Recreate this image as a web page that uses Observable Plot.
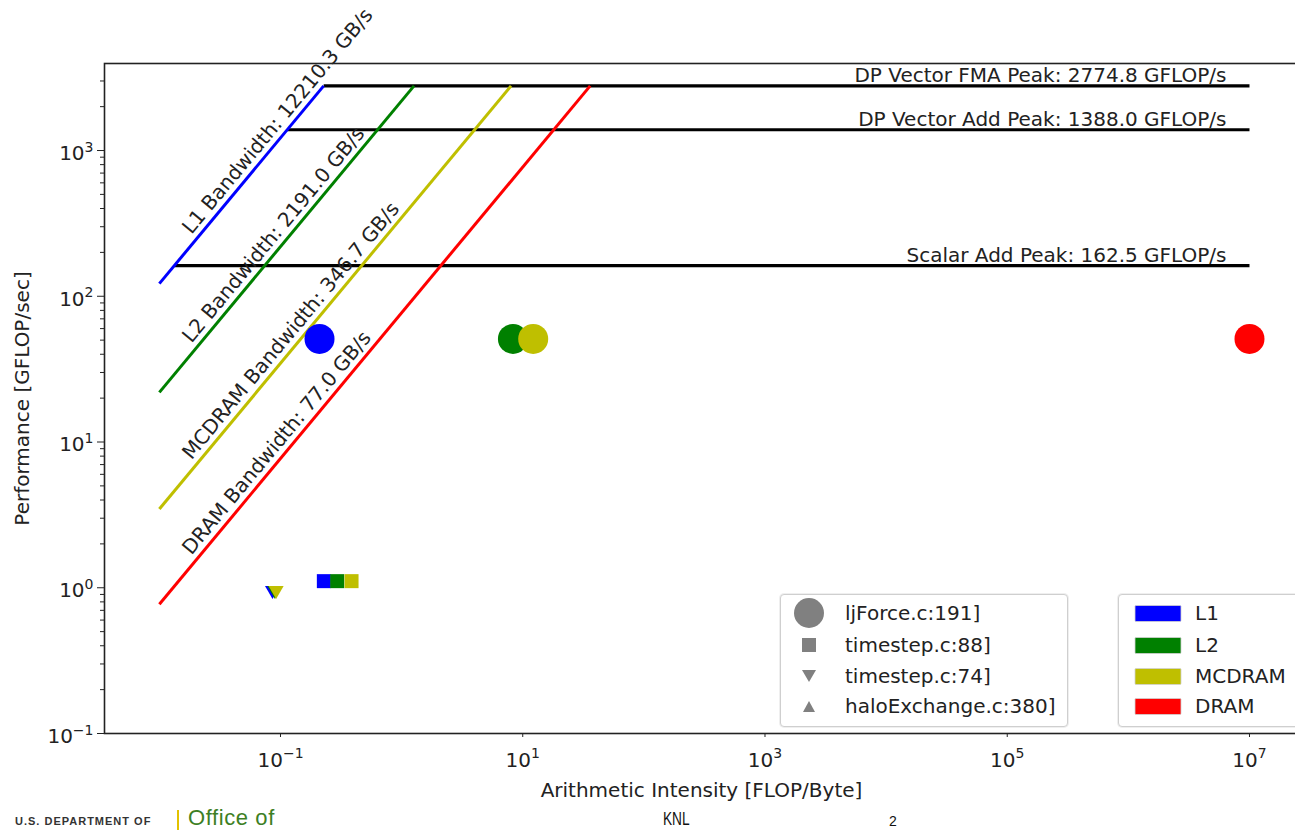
<!DOCTYPE html>
<html>
<head>
<meta charset="utf-8">
<script src="https://cdn.jsdelivr.net/npm/d3@7"></script>
<script src="https://cdn.jsdelivr.net/npm/@observablehq/plot@0.6"></script>
<style>
  html, body { margin: 0; padding: 0; background: #fff; }
  body { width: 1295px; height: 830px; overflow: hidden; position: relative; font-family: "DejaVu Sans", sans-serif; }
  #chart { position: absolute; left: 0; top: 0; width: 1300px; }
  #chart svg { max-width: none !important; }
  .legend { position: absolute; background: #fff; border: 1px solid #cfcfcf; border-radius: 4px; box-shadow: 0 0 0 1px #efefef; }
  .row { position: absolute; left: 0; height: 31px; width: 100%; }
  .row span { position: absolute; font-size: 20px; color: #222; line-height: 31px; top: 0; }
  .row svg { position: absolute; top: 0; }
  .foot { position: absolute; white-space: nowrap; line-height: normal; }
</style>
</head>
<body>
<div id="chart"></div>
<div id="legendKernels" class="legend" style="left:780px; top:594px; width:286px; height:131px;"></div>
<div id="legendLevels" class="legend" style="left:1118px; top:594px; width:180px; height:131px;"></div>

<div class="foot" style="left:15px; top:815px; font-family:'Liberation Sans',sans-serif; font-weight:bold; font-size:11px; letter-spacing:1px; color:#333;">U.S. DEPARTMENT OF</div>
<div class="foot" style="left:177px; top:810px; width:2px; height:22px; background:#e2c200;"></div>
<div class="foot" style="left:188px; top:805px; font-family:'Liberation Sans',sans-serif; font-size:22px; letter-spacing:0.6px; color:#3d7f24;">Office of</div>
<div class="foot" style="left:663px; top:808px; font-family:'Liberation Sans',sans-serif; font-size:19px; color:#111; transform:scaleX(0.72); transform-origin:left top;">KNL</div>
<div class="foot" style="left:889px; top:813px; font-family:'Liberation Sans',sans-serif; font-size:14px; color:#111;">2</div>

<script>
// ---------------- data ----------------
const memLevels   = ["L1", "L2", "MCDRAM", "DRAM"];
const memColors   = ["#0000ff", "#008000", "#bfbf00", "#ff0000"];
const bandwidths  = [12210.3, 2191.0, 346.7, 77.0];          // GB/s

const peakNames   = ["DP Vector FMA Peak", "DP Vector Add Peak", "Scalar Add Peak"];
const peakValues  = [2774.8, 1388.0, 162.5];                  // GFLOP/s

const roofStartAI = 0.01;    // where the bandwidth ceilings start
const roofEndAI   = 1e7;     // where the compute ceilings end
const labelAI     = 0.0184;  // where the bandwidth labels start

const kernelNames   = ["ljForce.c:191]", "timestep.c:88]", "timestep.c:74]", "haloExchange.c:380]"];

// measured kernels (one value per memory level, L1, L2, MCDRAM, DRAM)
const ljForceAI       = [0.21, 8.3, 12.2, 1e7];
const ljForcePerf     = [51, 51, 51, 51];
const timestep88AI    = [0.228, 0.294, 0.386];
const timestep88Perf  = [1.11, 1.11, 1.11];
const timestep74AI    = [0.086, 0.090, 0.092];
const timestep74Perf  = [0.96, 0.96, 0.96];

const xTicks = [1e-1, 1e1, 1e3, 1e5, 1e7];
const yTicks = [1e-1, 1e0, 1e1, 1e2, 1e3];

// ---------------- derived tables ----------------
const bwRows = memLevels.map((name, i) => ({
  name, bw: bandwidths[i],
  x1: roofStartAI, y1: bandwidths[i] * roofStartAI,
  x2: peakValues[0] / bandwidths[i], y2: peakValues[0]
}));
const peakRows = peakNames.map((name, i) => ({
  name, value: peakValues[i],
  x1: peakValues[i] / bandwidths[0], x2: roofEndAI
}));
const mk = (ai, perf) => ai.map((x, i) => ({x, y: perf[i], level: memLevels[i]}));
const circles   = mk(ljForceAI, ljForcePerf);
const squares   = mk(timestep88AI, timestep88Perf);
const triangles = mk(timestep74AI, timestep74Perf);

const yMinor = [];
for (let e = -1; e <= 3; e++) for (let m = 2; m <= 9; m++) {
  const v = m * Math.pow(10, e);
  if (v < 3954) yMinor.push(v);
}

const sup = {"-": "⁻", "0": "⁰", "1": "¹", "2": "²", "3": "³", "4": "⁴", "5": "⁵", "6": "⁶", "7": "⁷", "8": "⁸", "9": "⁹"};
const fmt = v => "10" + String(Math.round(Math.log10(v))).split("").map(c => sup[c]).join("");

// ---------------- chart ----------------
const chart = Plot.plot({
  width: 1300,
  height: 800,
  marginLeft: 104,
  marginRight: 2,
  marginTop: 63,
  marginBottom: 67,
  style: {fontFamily: "DejaVu Sans, sans-serif", fontSize: "20px", color: "#222", background: "#fff", overflow: "visible", maxWidth: "none"},
  x: {type: "log", domain: [0.003524, 2.539e7]},
  y: {type: "log", domain: [0.1, 3954]},
  color: {domain: memLevels, range: memColors},
  marks: [
    Plot.axisX(xTicks, {tickSize: 4, tickPadding: 15, tickFormat: fmt, label: null, fontSize: 20, stroke: "#222"}),
    Plot.axisY(yTicks, {tickSize: 7, tickPadding: 4, tickFormat: fmt, label: null, fontSize: 20, stroke: "#222"}),
    Plot.axisY(yMinor, {tickSize: 4, tickFormat: () => "", label: null, stroke: "#222"}),
    Plot.frame({stroke: "#222", strokeWidth: 1.6}),
    Plot.text(["Arithmetic Intensity [FLOP/Byte]"], {text: d => d, frameAnchor: "bottom", textAnchor: "middle", lineAnchor: "middle", dy: 57, fontSize: 20, fill: "#222"}),
    Plot.text(["Performance [GFLOP/sec]"], {text: d => d, frameAnchor: "left", textAnchor: "middle", lineAnchor: "middle", dx: -82, rotate: -90, fontSize: 20, fill: "#222"}),
    // compute ceilings
    Plot.link(peakRows, {x1: "x1", x2: "x2", y1: "value", y2: "value", stroke: "#000", strokeWidth: 3.2}),
    // bandwidth ceilings
    Plot.link(bwRows, {x1: "x1", y1: "y1", x2: "x2", y2: "y2", stroke: "name", strokeWidth: 3}),
    Plot.text(peakRows, {x: () => roofEndAI, y: "value", text: d => `${d.name}: ${d.value.toFixed(1)} GFLOP/s`,
      textAnchor: "end", lineAnchor: "bottom", dx: -23, dy: -3.5, fontSize: 20, fill: "#222"}),
    Plot.text(bwRows, {x: () => labelAI, y: d => d.bw * labelAI, text: d => `${d.name} Bandwidth: ${d.bw.toFixed(1)} GB/s`,
      textAnchor: "start", lineAnchor: "bottom", rotate: -50.3, dy: -10, fontSize: 20, fill: "#222"}),
    // kernels
    Plot.dot(circles, {x: "x", y: "y", fill: "level", r: 15, symbol: "circle"}),
    Plot.dot(squares, {x: "x", y: "y", fill: "level", r: 7.9, symbol: "square"}),
    Plot.dot(triangles, {x: "x", y: "y", fill: "level", r: 5.6, symbol: "triangle", rotate: 180})
  ]
});
document.getElementById("chart").appendChild(chart);

// render tick labels as 10 with a raised exponent, like matplotlib's mathtext
const unsup = Object.fromEntries(Object.entries(sup).map(([k, v]) => [v, k]));
d3.select(chart).selectAll('g[aria-label$="tick label"] text').each(function () {
  const t = this.textContent;
  if (!t.startsWith("10")) return;
  const e = t.slice(2).split("").map(c => unsup[c] ?? c).join("").replace("-", "\u2212");
  const isY = this.parentNode.getAttribute("aria-label").startsWith("y");
  this.textContent = "10";
  if (isY) this.setAttribute("dy", "3");
  d3.select(this).append("tspan").attr("font-size", 14).attr("dy", "-0.6em").text(e);
});

// ---------------- legends ----------------
const rowTops = [3, 35, 66, 96];
const kernelShapes = [
  '<circle cx="15" cy="15" r="15" fill="#808080"/>',
  '<rect x="8" y="8" width="14" height="14" fill="#808080"/>',
  '<path d="M8,9 L22,9 L15,21 Z" fill="#808080"/>',
  '<path d="M9,21 L21,21 L15,10 Z" fill="#808080"/>'
];
const lk = document.getElementById("legendKernels");
kernelNames.forEach((name, i) => {
  const row = document.createElement("div");
  row.className = "row";
  row.style.top = rowTops[i] + "px";
  row.innerHTML = `<svg width="30" height="31" style="left:13px" viewBox="0 0 30 31">${kernelShapes[i]}</svg><span style="left:64px">${name}</span>`;
  lk.appendChild(row);
});
const ll = document.getElementById("legendLevels");
memLevels.forEach((name, i) => {
  const row = document.createElement("div");
  row.className = "row";
  row.style.top = rowTops[i] + "px";
  row.innerHTML = `<svg width="48" height="31" style="left:15px" viewBox="0 0 48 31"><rect x="1" y="7.5" width="46" height="16" rx="1" fill="${memColors[i]}" stroke="#d0d0d0" stroke-width="0.8"/></svg><span style="left:76px">${name}</span>`;
  ll.appendChild(row);
});
</script>
</body>
</html>
